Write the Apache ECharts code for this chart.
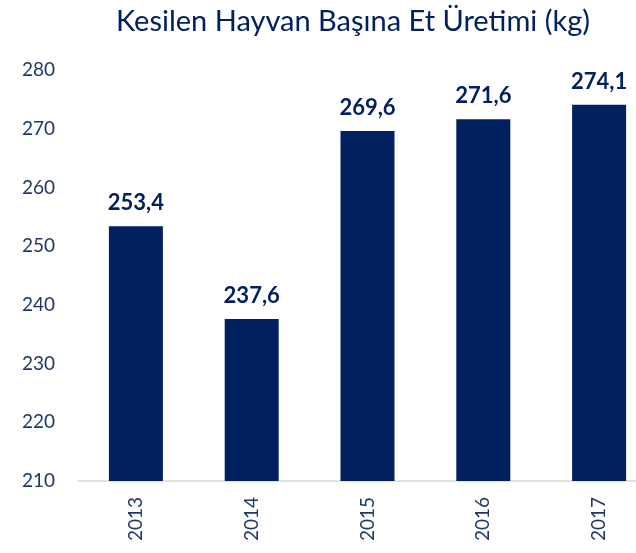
<!DOCTYPE html>
<html><head><meta charset="utf-8">
<script src="https://cdn.jsdelivr.net/npm/echarts@6/dist/echarts.min.js"></script>
<style>html,body{margin:0;padding:0;background:#fff}#c{width:636px;height:553px}</style>
</head><body><div id="c"></div>
<script>
const titleText = 'Kesilen Hayvan Başına Et Üretimi (kg)';
const years = ['2013','2014','2015','2016','2017'];
const values = [253.4, 237.6, 269.6, 271.6, 274.1];
const yTicks = [210, 220, 230, 240, 250, 260, 270, 280];

const navy = '#002060';
const textNavy = '#1F3864';
const chart = echarts.init(document.getElementById('c'));
chart.setOption({
  animation: false,
  title: {
    text: titleText, left: 111, top: 2,
    textStyle: { fontFamily: 'Lato', fontSize: 29, fontWeight: 'normal', color: navy }
  },
  grid: { left: 78, top: 70, width: 579, bottom: 72, containLabel: false, outerBoundsMode: 'none' },
  xAxis: {
    type: 'category', data: years,
    axisLine: { lineStyle: { color: '#D9D9D9', width: 1.5 } },
    axisTick: { show: false },
    axisLabel: { rotate: 90, margin: 16, fontFamily: 'Lato', fontSize: 19, color: textNavy }
  },
  yAxis: {
    type: 'value', min: yTicks[0], max: yTicks[yTicks.length - 1], interval: 10,
    splitLine: { show: false }, axisLine: { show: false }, axisTick: { show: false },
    axisLabel: { margin: 23, fontFamily: 'Lato', fontSize: 19, color: textNavy }
  },
  series: [{
    type: 'bar', data: values, barWidth: 54,
    itemStyle: { color: navy },
    label: {
      show: true, position: 'top', distance: 12,
      fontFamily: 'Lato', fontSize: 22, fontWeight: 'bold', color: navy,
      formatter: p => p.value.toFixed(1).replace('.', ',')
    }
  }]
});
</script></body></html>
